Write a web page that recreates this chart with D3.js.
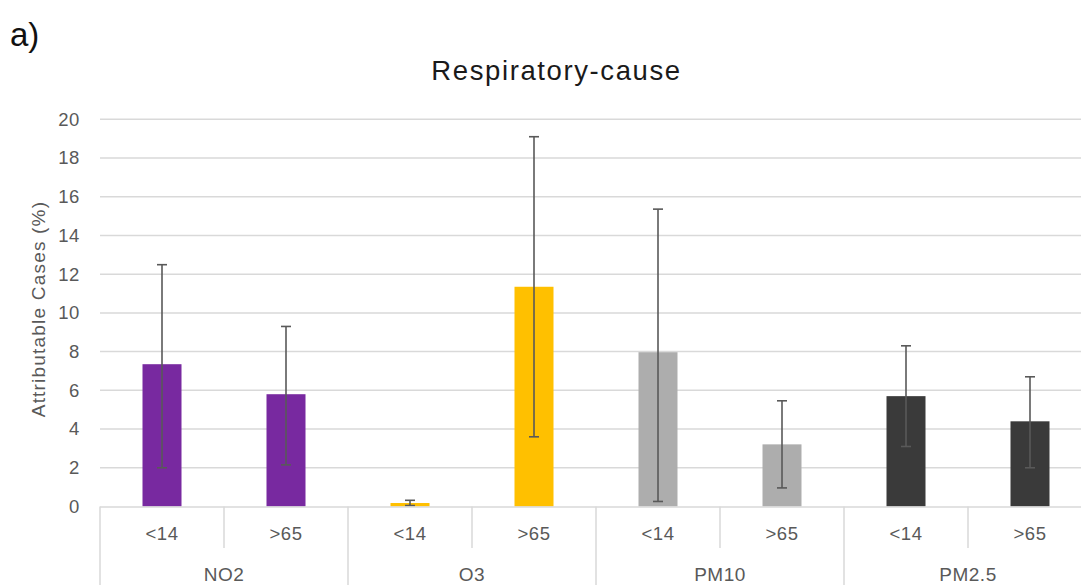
<!DOCTYPE html>
<html><head><meta charset="utf-8">
<script src="https://cdn.jsdelivr.net/npm/d3@7"></script>
<style>body{margin:0;background:#fff;}svg{display:block;font-family:"Liberation Sans",Arial,sans-serif;}</style>
</head><body><svg id="c" width="1081" height="585"></svg>
<script>
const groups = ["NO2","O3","PM10","PM2.5"];
const ages = ["<14",">65"];
const values = [7.35, 5.8, 0.18, 11.35, 7.97, 3.21, 5.7, 4.4];
const lowers = [2.0, 2.15, 0.05, 3.6, 0.26, 0.96, 3.1, 2.0];
const uppers = [12.49, 9.3, 0.32, 19.1, 15.36, 5.46, 8.3, 6.7];
const colors = ["#7829A0","#FFC000","#ADADAD","#3A3A3A"];
const yTicks = [0,2,4,6,8,10,12,14,16,18,20];

const svg = d3.select("#c");
const left = 100, right = 1092, y0 = 506.5, y1 = 119.3;
const keys = [];
groups.forEach(g => ages.forEach(a => keys.push(g + "|" + a)));
const data = keys.map((k, i) => ({key:k, group:k.split("|")[0], age:k.split("|")[1], v:values[i], lo:lowers[i], hi:uppers[i], gi:Math.floor(i/2)}));

const x = d3.scaleBand().domain(keys).range([left, right]).paddingInner(0).paddingOuter(0);
const xg = d3.scaleBand().domain(groups).range([left, right]);
const y = d3.scaleLinear().domain([0,20]).range([y0, y1]);

// title and label
svg.append("text").attr("x",10).attr("y",46).attr("font-size",33).attr("fill","#111").text("a)");
svg.append("text").attr("x",556.5).attr("y",80).attr("text-anchor","middle").attr("font-size",27.5).attr("letter-spacing",1.6).attr("fill","#1a1a1a").text("Respiratory-cause");
svg.append("text").attr("transform","translate(45,309) rotate(-90)").attr("text-anchor","middle").attr("font-size",19).attr("letter-spacing",1.2).attr("fill","#595959").text("Attributable Cases (%)");

// gridlines
svg.append("g").selectAll("line").data(yTicks.filter(d=>d>0)).join("line")
  .attr("x1",left).attr("x2",1081).attr("y1",d=>y(d)).attr("y2",d=>y(d))
  .attr("stroke","#D9D9D9").attr("stroke-width",1.5);

// y axis labels
const ya = svg.append("g").attr("transform",`translate(${left},0)`).call(d3.axisLeft(y).tickValues(yTicks).tickSize(0).tickPadding(20));
ya.select(".domain").remove();
ya.selectAll("text").attr("font-size",18.5).attr("letter-spacing",0.6).attr("fill","#595959").attr("font-family","'Liberation Sans',Arial,sans-serif");

// bars
const bw = 39;
svg.append("g").selectAll("rect").data(data).join("rect")
  .attr("x",d=>x(d.key)+x.bandwidth()/2-bw/2).attr("width",bw)
  .attr("y",d=>y(d.v)).attr("height",d=>y(0)-y(d.v))
  .attr("fill",d=>colors[d.gi]);

// error bars
const eb = svg.append("g").attr("stroke","#595959").attr("stroke-width",1.6);
data.forEach(d=>{
  const cx = x(d.key)+x.bandwidth()/2;
  eb.append("line").attr("x1",cx).attr("x2",cx).attr("y1",y(d.lo)).attr("y2",y(d.hi));
  eb.append("line").attr("x1",cx-5).attr("x2",cx+5).attr("y1",y(d.lo)).attr("y2",y(d.lo));
  eb.append("line").attr("x1",cx-5).attr("x2",cx+5).attr("y1",y(d.hi)).attr("y2",y(d.hi));
});

// x axis
const ax = svg.append("g").attr("stroke","#D9D9D9").attr("stroke-width",1.5);
ax.append("line").attr("x1",left).attr("x2",1081).attr("y1",y0+0.5).attr("y2",y0+0.5);
groups.forEach(g=>{
  ax.append("line").attr("x1",xg(g)).attr("x2",xg(g)).attr("y1",y0).attr("y2",585);
});
data.filter(d=>d.age===">65").forEach(d=>{
  ax.append("line").attr("x1",x(d.key)).attr("x2",x(d.key)).attr("y1",y0).attr("y2",548);
});
svg.append("g").selectAll("text").data(data).join("text")
  .attr("x",d=>x(d.key)+x.bandwidth()/2).attr("y",540).attr("text-anchor","middle")
  .attr("font-size",18.5).attr("letter-spacing",0.5).attr("fill","#595959").text(d=>d.age);
svg.append("g").selectAll("text").data(groups).join("text")
  .attr("x",d=>xg(d)+xg.bandwidth()/2).attr("y",581).attr("text-anchor","middle")
  .attr("font-size",19).attr("letter-spacing",0.5).attr("fill","#595959").text(d=>d);
</script></body></html>
